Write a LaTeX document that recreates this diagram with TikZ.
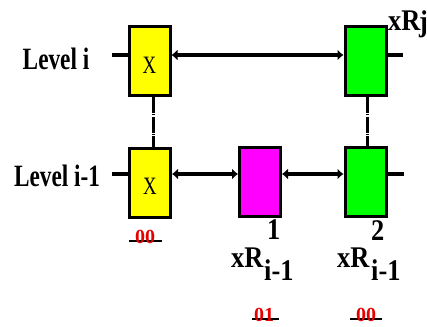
\documentclass[tikz,border=0pt]{standalone}
\usepackage{fontspec}
\setmainfont{Liberation Serif}
\usetikzlibrary{arrows.meta}
\definecolor{cyel}{RGB}{255,255,0}
\definecolor{cgrn}{RGB}{0,255,0}
\definecolor{cmag}{RGB}{255,0,255}
\definecolor{cred}{RGB}{230,0,0}
\newcommand{\cxs}[2]{\scalebox{#1}[1]{#2}}
\begin{document}
\begin{tikzpicture}[x=1pt,y=-1pt,
  box/.style={draw=black,line width=3pt,minimum width=41pt,minimum height=69pt,inner sep=0pt},
  lvl/.style={line width=4pt},
  arr/.style={line width=4pt,{Latex[length=6pt,width=11pt]}-{Latex[length=6pt,width=11pt]}},
  vline/.style={line width=3pt,dash pattern=on 16pt off 1.2pt on 1.2pt off 1.2pt},
  lvltxt/.style={inner sep=0pt,anchor=base,font=\fontsize{31}{31}\bfseries\selectfont},
  xtxt/.style={inner sep=0pt,font=\fontsize{25}{25}\selectfont},
  lbl/.style={inner sep=0pt,anchor=base west,font=\fontsize{30}{30}\bfseries\selectfont},
  redlbl/.style={inner sep=0pt,anchor=base,text=cred,font=\fontsize{20}{20}\bfseries\selectfont},
  uline/.style={line width=2pt}]
\fill[white] (0,0) rectangle (427,326);
\useasboundingbox (0,0) rectangle (427,326);

% boxes
\node[box,fill=cyel] (yt) at (149.5,61) {};
\node[box,fill=cgrn] (gt) at (365.5,61) {};
\node[box,fill=cyel] (yb) at (150,182.5) {};
\node[box,fill=cmag] (mb) at (260,182) {};
\node[box,fill=cgrn] (gb) at (365.5,182) {};

\node[xtxt] (xt) at (149.5,65.5) {\cxs{0.75}{X}};
\node[xtxt] (xb) at (150,186.5) {\cxs{0.75}{X}};

% level lines
\coordinate (lA) at (112,55);
\coordinate (lB) at (403,55);
\coordinate (lC) at (112,174);
\coordinate (lD) at (404,174);
\draw[lvl] (lA) -- (yt.west |- lA);
\draw[arr] (yt.east |- lA) -- (gt.west |- lA);
\draw[lvl] (gt.east |- lA) -- (lB);
\draw[lvl] (lC) -- (yb.west |- lC);
\draw[arr] (yb.east |- lC) -- (mb.west |- lC);
\draw[arr] (mb.east |- lC) -- (gb.west |- lC);
\draw[lvl] (gb.east |- lC) -- (lD);

% vertical links
\draw[vline] ([xshift=3.5pt]yt.south) -- ([xshift=3pt]yb.north);
\draw[vline] ([xshift=1.5pt]gt.south) -- ([xshift=1.5pt]gb.north);

% level labels
\node[lvltxt] (li) at (56,70) {\cxs{0.75}{Level i}};
\node[lvltxt] (li1) at (57,186) {\cxs{0.75}{Level i-1}};

% xR labels
\node[lbl] (xr) at (388,31) {\cxs{0.88}{xR}};
\node[lbl] (xrj) at (419,32) {\cxs{0.88}{j}};

\node[lbl] (xr1) at (231,267) {\cxs{0.88}{xR}};
\node[lbl] (s1) at (267,239) {\cxs{0.88}{1}};
\node[lbl] (b1) at (264,280) {\cxs{0.88}{i-1}};

\node[lbl] (xr2) at (337,267) {\cxs{0.88}{xR}};
\node[lbl] (s2) at (371,240) {\cxs{0.88}{2}};
\node[lbl] (b2) at (371,280) {\cxs{0.88}{i-1}};

% red codes
\coordinate (u1a) at (129,241); \coordinate (u1b) at (162,241);
\draw[uline] (u1a) -- (u1b);
\node[redlbl] (c1) at (145,243) {00};
\coordinate (u2a) at (252,319); \coordinate (u2b) at (279,319);
\draw[uline] (u2a) -- (u2b);
\node[redlbl] (c2) at (264,321) {01};
\coordinate (u3a) at (350,319); \coordinate (u3b) at (382,319);
\draw[uline] (u3a) -- (u3b);
\node[redlbl] (c3) at (366,321) {00};
\end{tikzpicture}
\end{document}
